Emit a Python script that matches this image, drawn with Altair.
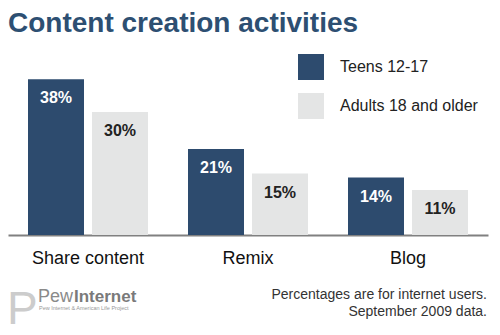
import altair as alt
import pandas as pd

categories = ["Share content", "Remix", "Blog"]
series = ["Teens 12-17", "Adults 18 and older"]
teens = [38, 21, 14]
adults = [30, 15, 11]
colors = ["#2d4b6e", "#e4e5e5"]
label_colors = ["#ffffff", "#222222"]

title_text = "Content creation activities"
note_lines = ["Percentages are for internet users.", "September 2009 data."]

rows = []
for c, t, a in zip(categories, teens, adults):
    rows.append({"cat": c, "series": series[0], "v": t, "lbl": f"{t}%"})
    rows.append({"cat": c, "series": series[1], "v": a, "lbl": f"{a}%"})
df = pd.DataFrame(rows)

FONT = "Liberation Sans"

base = alt.Chart(df).encode(
    x=alt.X("cat:N", sort=categories, title=None,
            scale=alt.Scale(paddingInner=0.25, paddingOuter=0.125),
            axis=alt.Axis(labelAngle=0, labelFontSize=18, labelColor="#111111",
                          labelFont=FONT, ticks=False, domainColor="#808080",
                          domainWidth=2, labelPadding=14)),
    xOffset=alt.XOffset("series:N", sort=series,
                        scale=alt.Scale(paddingInner=0.125, paddingOuter=0)),
    y=alt.Y("v:Q", scale=alt.Scale(domain=[0, 190 / 4.1], nice=False, zero=True),
            axis=None),
)

bars = base.mark_bar(size=56).encode(
    color=alt.Color("series:N", sort=series,
                    scale=alt.Scale(domain=series, range=colors),
                    legend=alt.Legend(title=None, orient="none", legendX=290, legendY=9,
                                      symbolType="square", symbolSize=676,
                                      symbolStrokeWidth=0, labelFontSize=16,
                                      labelFont=FONT, labelColor="#222222",
                                      rowPadding=13, labelOffset=16))
)

labels = base.mark_text(fontSize=16, fontWeight="bold", font=FONT, dy=24,
                        baseline="alphabetic", align="center").encode(
    text="lbl:N",
    color=alt.Color("series:N", sort=series,
                    scale=alt.Scale(domain=series, range=label_colors), legend=None),
)

def txt(s, x, y, **kw):
    return alt.Chart(pd.DataFrame({"t": [s]})).mark_text(
        baseline="alphabetic", font=FONT, **kw
    ).encode(text="t:N", x=alt.value(x), y=alt.value(y))

title = txt(title_text, 0, -13, align="left", fontSize=28, fontWeight="bold",
            color="#2d4f72")
note1 = txt(note_lines[0], 479, 254, align="right", fontSize=14, color="#333333")
note2 = txt(note_lines[1], 479, 271, align="right", fontSize=14, color="#333333")

logo_p = txt("P", -1, 279, align="left", fontSize=46, color="#cccccc", fontWeight=300)
logo_pew = txt("Pew", 30, 257, align="left", fontSize=18, color="#8a8a8a", fontWeight=300)
logo_int = txt("Internet", 66, 257, align="left", fontSize=17, color="#7a7a7a",
               fontWeight="bold")
logo_sub = txt("Pew Internet & American Life Project", 31, 265, align="left",
               fontSize=5.5, color="#999999")

chart = alt.layer(bars, labels, title, note1, note2, logo_p, logo_pew, logo_int,
                  logo_sub).resolve_scale(
    color="independent"
).properties(
    width=480, height=190,
    autosize=alt.AutoSizeParams(type="none"),
    padding={"left": 8, "right": 12, "top": 45, "bottom": 100},
).configure(background="white").configure_view(strokeWidth=0, stroke="transparent")

chart.save("out.html", embed_options={"renderer": "svg", "actions": False})
